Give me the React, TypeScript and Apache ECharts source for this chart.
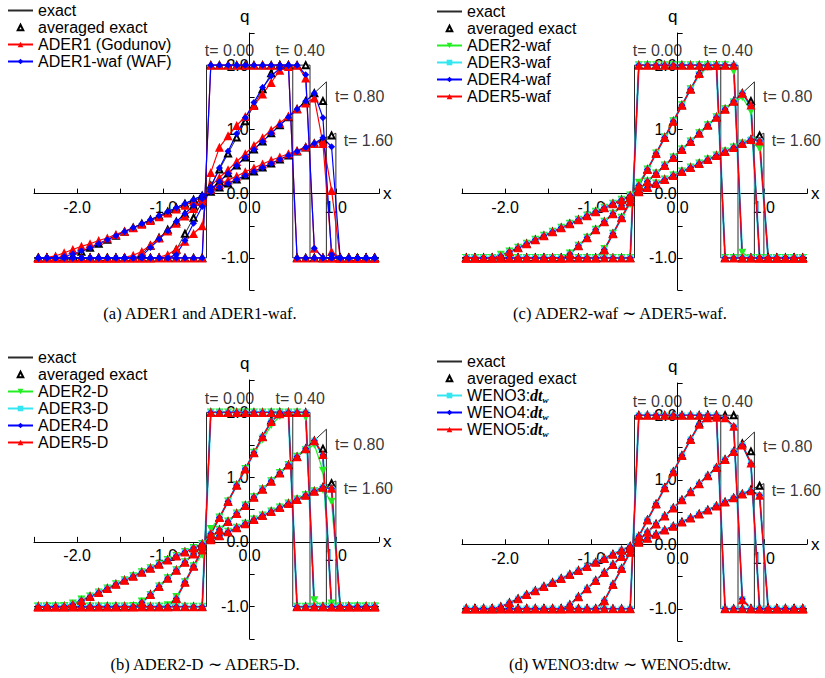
import React, { useEffect, useRef } from 'react';
import * as echarts from 'echarts';

// ---------- data ----------
const X = [-2.45, -2.35, -2.25, -2.15, -2.05, -1.95, -1.85, -1.75, -1.65, -1.55,
  -1.45, -1.35, -1.25, -1.15, -1.05, -0.95, -0.85, -0.75, -0.65, -0.55,
  -0.45, -0.35, -0.25, -0.15, -0.05, 0.05, 0.15, 0.25, 0.35, 0.45,
  0.55, 0.65, 0.75, 0.85, 0.95, 1.05, 1.15, 1.25, 1.35, 1.45];

const AVG_T000 = [-1, -1, -1, -1, -1, -1, -1, -1, -1, -1, -1, -1, -1, -1, -1, -1, -1, -1, -1, -1,
  2, 2, 2, 2, 2, 2, 2, 2, 2, 2, -1, -1, -1, -1, -1, -1, -1, -1, -1, -1];
const AVG_T040 = [-1, -1, -1, -1, -1, -1, -1, -1, -1, -1, -1, -1, -1, -1, -1, -1,
  -0.875, -0.625, -0.375, -0.125, 0.125, 0.375, 0.625, 0.875, 1.125, 1.375, 1.625, 1.875,
  2, 2, 2, 2, -1, -1, -1, -1, -1, -1, -1, -1];
const AVG_T080 = [-1, -1, -1, -1, -1, -1, -1, -1, -1, -1, -1, -1,
  -0.938, -0.813, -0.688, -0.563, -0.438, -0.313, -0.188, -0.063, 0.063, 0.188, 0.313, 0.438,
  0.563, 0.688, 0.813, 0.938, 1.063, 1.188, 1.313, 1.438, 1.563, 1.44,
  -1, -1, -1, -1, -1, -1];
const AVG_T160 = [-1, -1, -1, -1, -0.969, -0.906, -0.844, -0.781, -0.719, -0.656,
  -0.594, -0.531, -0.469, -0.406, -0.344, -0.281, -0.219, -0.156, -0.094, -0.031,
  0.031, 0.094, 0.156, 0.219, 0.281, 0.344, 0.406, 0.469, 0.531, 0.594,
  0.656, 0.719, 0.781, 0.844, 0.906, -1, -1, -1, -1, -1];

const EXACT_T000 = [[-2.5, -1], [-0.5, -1], [-0.5, 2], [0.5, 2], [0.5, -1], [1.5, -1]];
const EXACT_T040 = [[-2.5, -1], [-0.9, -1], [0.3, 2], [0.7, 2], [0.7, -1], [1.5, -1]];
const EXACT_T080 = [[-2.5, -1], [-1.3, -1], [0.89, 1.74], [0.89, -1], [1.5, -1]];
const EXACT_T160 = [[-2.5, -1], [-2.1, -1], [1.0, 0.94], [1.0, -1], [1.5, -1]];

const TIME_LABELS = ['t= 0.00', 't= 0.40', 't= 0.80', 't= 1.60'];
const TIME_LABEL_AT = [[-0.52, 2.22], [0.3, 2.22], [0.99, 1.51], [1.09, 0.83]];

const X_MIN = -2.5, X_MAX = 1.5, Y_MIN = -1.5, Y_MAX = 2.5;

// numerical values: cell averages with the deviations
function patch(base: number[], changes: Record<number, number>) {
  const a = base.slice();
  Object.keys(changes).forEach((k) => { a[Number(k)] = changes[Number(k)]; });
  return a;
}

// (a) ADER1 (Godunov)
const ADER1_T040 = patch(AVG_T040, { 14: -0.99, 15: -0.95, 16: -0.86, 17: -0.74, 18: -0.62, 19: -0.5, 20: 0.33, 21: 0.72, 22: 0.9, 23: 1.06, 24: 1.2, 25: 1.37, 26: 1.55, 27: 1.73, 28: 1.92, 29: 1.98, 31: 1.8, 32: -0.85 });
const ADER1_T080 = patch(AVG_T080, { 10: -0.99, 11: -0.96, 12: -0.9, 13: -0.8, 14: -0.69, 15: -0.58, 16: -0.46, 17: -0.35, 18: -0.23, 19: -0.12, 20: 0.12, 21: 0.25, 22: 0.37, 23: 0.5, 24: 0.62, 25: 0.75, 26: 0.87, 27: 0.99, 28: 1.1, 29: 1.21, 30: 1.32, 31: 1.41, 32: 1.49, 33: 0.78, 34: -0.9 });
const ADER1_T160 = patch(AVG_T160, { 1: -0.99, 2: -0.97, 3: -0.92, 4: -0.87, 5: -0.82, 6: -0.78, 7: -0.73, 8: -0.69, 9: -0.635, 10: -0.585, 11: -0.53, 12: -0.475, 13: -0.42, 14: -0.36, 15: -0.3, 16: -0.24, 17: -0.18, 18: -0.12, 19: -0.06, 20: 0.07, 21: 0.14, 22: 0.21, 23: 0.27, 24: 0.34, 25: 0.4, 26: 0.46, 27: 0.52, 28: 0.57, 29: 0.62, 30: 0.67, 31: 0.73, 32: 0.78, 33: 0.82, 34: 0.05 });
// (a) ADER1-waf (WAF)
const ADER1W_T040 = patch(AVG_T040, { 16: -0.95, 17: -0.73, 18: -0.46, 19: -0.2, 20: 0.1, 21: 0.4, 22: 0.66, 23: 0.93, 24: 1.18, 25: 1.42, 26: 1.65, 27: 1.83, 28: 1.95, 31: 1.85, 32: -0.85 });
const ADER1W_T080 = patch(AVG_T080, { 12: -0.97, 13: -0.84, 14: -0.71, 15: -0.58, 19: -0.08, 20: 0.06, 33: 1.18, 34: -0.95 });
const ADER1W_T160 = patch(AVG_T160, { 3: -0.98, 4: -0.94, 5: -0.89, 33: 0.87, 34: 0.73 });

// (c) ADER-waf
const ADER2W_T040 = patch(AVG_T040, { 16: -0.86, 19: -0.16, 20: 0.17, 27: 1.84, 28: 1.97, 31: 1.9, 32: -0.92 });
const ADER2W_T080 = patch(AVG_T080, { 12: -0.93, 31: 1.42, 32: 1.5, 33: 1.28 });
const ADER2W_T160 = patch(AVG_T160, { 4: -0.95, 5: -0.9, 33: 0.82, 34: 0.7 });
const ADER3W_T040 = patch(AVG_T040, { 27: 1.86, 28: 1.98 });
const ADER3W_T080 = patch(AVG_T080, { 33: 1.35 });
const ADER3W_T160 = patch(AVG_T160, { 34: 0.82 });
const ADER4W_T040 = patch(AVG_T040, { 27: 1.87, 28: 1.99 });
const ADER4W_T080 = patch(AVG_T080, { 33: 1.37 });
const ADER4W_T160 = patch(AVG_T160, { 34: 0.82 });
const ADER5W_T040 = patch(AVG_T040, { 27: 1.87, 28: 1.99 });
const ADER5W_T080 = patch(AVG_T080, { 33: 1.38 });
const ADER5W_T160 = patch(AVG_T160, { 34: 0.82 });

// (b) ADER-D
const ADER2D_T040 = patch(AVG_T040, { 15: -0.98, 16: -0.85, 19: -0.2, 20: 0.2, 26: 1.58, 27: 1.8, 28: 1.94, 29: 1.99, 31: 1.92, 32: -0.9 });
const ADER2D_T080 = patch(AVG_T080, { 11: -0.99, 12: -0.92, 13: -0.82, 31: 1.42, 32: 1.5, 33: 1.1, 34: -0.95 });
const ADER2D_T160 = patch(AVG_T160, { 3: -0.99, 4: -0.95, 5: -0.89, 33: 0.8, 34: 0.62 });
const ADER3D_T040 = patch(AVG_T040, { 27: 1.86, 28: 1.97 });
const ADER3D_T080 = patch(AVG_T080, { 33: 1.33 });
const ADER3D_T160 = patch(AVG_T160, { 34: 0.82 });
const ADER4D_T040 = patch(AVG_T040, { 27: 1.86, 28: 1.98 });
const ADER4D_T080 = patch(AVG_T080, { 33: 1.34 });
const ADER4D_T160 = patch(AVG_T160, { 34: 0.82 });
const ADER5D_T040 = patch(AVG_T040, { 27: 1.86, 28: 1.98 });
const ADER5D_T080 = patch(AVG_T080, { 33: 1.35 });
const ADER5D_T160 = patch(AVG_T160, { 34: 0.83 });

// (d) WENO
const WENO3_T040 = patch(AVG_T040, { 27: 1.85, 28: 1.95, 29: 1.96, 30: 1.95, 31: 1.82, 32: -0.85 });
const WENO3_T080 = patch(AVG_T080, { 32: 1.54, 33: 1.25 });
const WENO3_T160 = patch(AVG_T160, { 33: 0.83, 34: 0.76 });
const WENO4_T040 = patch(AVG_T040, { 27: 1.86, 28: 1.96, 29: 1.97, 30: 1.96, 31: 1.83, 32: -0.85 });
const WENO4_T080 = patch(AVG_T080, { 32: 1.54, 33: 1.25 });
const WENO4_T160 = patch(AVG_T160, { 33: 0.83, 34: 0.76 });
const WENO5_T040 = patch(AVG_T040, { 27: 1.86, 28: 1.96, 29: 1.97, 30: 1.96, 31: 1.83, 32: -0.86 });
const WENO5_T080 = patch(AVG_T080, { 32: 1.54, 33: 1.26 });
const WENO5_T160 = patch(AVG_T160, { 33: 0.83, 34: 0.76 });

// ---------- styles ----------
const FONT = 'Liberation Sans, Arial, Helvetica, sans-serif';
const SERIF = 'Liberation Serif, Times New Roman, serif';
const RED = '#ff0000';
const BLUE = '#0000ff';
const GREEN = '#22ee22';
const CYAN = '#33e6f0';

type Scheme = { name: string; color: string; symbol: string; size: number; rotate?: number; width?: number; values: number[][] };

const STY = {
  red: { color: RED, symbol: 'triangle', size: 9 },
  blue: { color: BLUE, symbol: 'diamond', size: 7 },
  green: { color: GREEN, symbol: 'triangle', size: 8, rotate: 180 },
  cyan: { color: CYAN, symbol: 'rect', size: 6, width: 2.2 },
};

const PANELS = [
  {
    grid: { left: 34, top: 33, width: 345, height: 257 },
    legend: { left: 7, top: 2 },
    caption: { text: '(a) ADER1 and ADER1-waf.', x: 200, y: 313 },
    schemes: [
      { name: 'ADER1 (Godunov)', ...STY.red, values: [AVG_T000, ADER1_T040, ADER1_T080, ADER1_T160] },
      { name: 'ADER1-waf (WAF)', ...STY.blue, values: [AVG_T000, ADER1W_T040, ADER1W_T080, ADER1W_T160] },
    ] as Scheme[],
  },
  {
    grid: { left: 462, top: 33, width: 345, height: 257 },
    legend: { left: 436, top: 3 },
    caption: { text: '(c) ADER2-waf \u223C ADER5-waf.', x: 620, y: 313 },
    schemes: [
      { name: 'ADER2-waf', ...STY.green, values: [AVG_T000, ADER2W_T040, ADER2W_T080, ADER2W_T160] },
      { name: 'ADER3-waf', ...STY.cyan, values: [AVG_T000, ADER3W_T040, ADER3W_T080, ADER3W_T160] },
      { name: 'ADER4-waf', ...STY.blue, values: [AVG_T000, ADER4W_T040, ADER4W_T080, ADER4W_T160] },
      { name: 'ADER5-waf', ...STY.red, values: [AVG_T000, ADER5W_T040, ADER5W_T080, ADER5W_T160] },
    ] as Scheme[],
  },
  {
    grid: { left: 34, top: 380, width: 345, height: 259 },
    legend: { left: 7, top: 349 },
    caption: { text: '(b) ADER2-D \u223C ADER5-D.', x: 205, y: 664 },
    schemes: [
      { name: 'ADER2-D', ...STY.green, values: [AVG_T000, ADER2D_T040, ADER2D_T080, ADER2D_T160] },
      { name: 'ADER3-D', ...STY.cyan, values: [AVG_T000, ADER3D_T040, ADER3D_T080, ADER3D_T160] },
      { name: 'ADER4-D', ...STY.blue, values: [AVG_T000, ADER4D_T040, ADER4D_T080, ADER4D_T160] },
      { name: 'ADER5-D', ...STY.red, values: [AVG_T000, ADER5D_T040, ADER5D_T080, ADER5D_T160] },
    ] as Scheme[],
  },
  {
    grid: { left: 462, top: 383, width: 345, height: 258 },
    legend: { left: 436, top: 353 },
    caption: { text: '(d) WENO3:dtw \u223C WENO5:dtw.', x: 620, y: 664 },
    schemes: [
      { name: 'WENO3:dtw', ...STY.cyan, values: [AVG_T000, WENO3_T040, WENO3_T080, WENO3_T160] },
      { name: 'WENO4:dtw', ...STY.blue, values: [AVG_T000, WENO4_T040, WENO4_T080, WENO4_T160] },
      { name: 'WENO5:dtw', ...STY.red, values: [AVG_T000, WENO5_T040, WENO5_T080, WENO5_T160] },
    ] as Scheme[],
  },
];

const EXACT = [EXACT_T000, EXACT_T040, EXACT_T080, EXACT_T160];
const AVERAGED = [AVG_T000, AVG_T040, AVG_T080, AVG_T160];

function fmt(v: number) {
  return Math.abs(v - Math.round(v)) < 1e-9 ? v.toFixed(1) : '';
}

function buildOption() {
  const grid: any[] = [];
  const xAxis: any[] = [];
  const yAxis: any[] = [];
  const legend: any[] = [];
  const series: any[] = [];
  const graphic: any[] = [];

  PANELS.forEach((p, gi) => {
    grid.push({ ...p.grid, containLabel: false });
    // put the axes through the origin
    const xOffset = -p.grid.height * (0 - Y_MIN) / (Y_MAX - Y_MIN);
    const yOffset = -p.grid.width * (0 - X_MIN) / (X_MAX - X_MIN);
    xAxis.push({
      gridIndex: gi, type: 'value', min: X_MIN, max: X_MAX, interval: 0.5,
      position: 'bottom', offset: xOffset,
      name: 'x', nameLocation: 'end', nameGap: 4,
      nameTextStyle: { fontSize: 17, color: '#000', fontFamily: FONT, align: 'left', verticalAlign: 'middle' },
      axisLine: { onZero: false, lineStyle: { color: '#000', width: 1 } },
      axisTick: { show: true, inside: true, length: 5, lineStyle: { color: '#000' } },
      axisLabel: { fontSize: 16, color: '#000', fontFamily: FONT, margin: 6, formatter: fmt },
      splitLine: { show: false },
    });
    yAxis.push({
      gridIndex: gi, type: 'value', min: Y_MIN, max: Y_MAX, interval: 0.5,
      position: 'left', offset: yOffset,
      name: 'q', nameLocation: 'end', nameGap: 8,
      nameTextStyle: { fontSize: 17, color: '#000', fontFamily: FONT, align: 'center', padding: [0, 10, 0, 0] },
      axisLine: { onZero: false, lineStyle: { color: '#000', width: 1 } },
      axisTick: { show: true, inside: true, length: 5, lineStyle: { color: '#000' } },
      axisLabel: { fontSize: 16, color: '#000', fontFamily: FONT, margin: 1, formatter: fmt },
      splitLine: { show: false },
    });

    const isWeno = gi === 3;
    legend.push({
      orient: 'vertical', left: p.legend.left, top: p.legend.top, padding: 0,
      itemWidth: 25, itemHeight: 7, itemGap: 0, selectedMode: false,
      textStyle: {
        fontSize: 16, lineHeight: 17, color: '#000', fontFamily: FONT,
        rich: {
          i: { fontSize: 16, lineHeight: 17, fontStyle: 'italic', fontWeight: 'bold', fontFamily: SERIF, color: '#000' },
          s: { fontSize: 9, lineHeight: 17, fontStyle: 'italic', fontWeight: 'bold', fontFamily: SERIF, color: '#000', padding: [8, 0, 0, 0] },
        },
      },
      formatter: isWeno ? (n: string) => n.replace(':dtw', ':{i|dt}{s|w}') : undefined,
      data: [
        { name: 'exact', itemStyle: { opacity: 0 } },
        { name: 'averaged exact', itemStyle: { borderWidth: 1 } },
        ...p.schemes.map((s) => s.name),
      ],
    });

    EXACT.forEach((pts) => {
      series.push({
        type: 'line', name: 'exact', xAxisIndex: gi, yAxisIndex: gi, data: pts,
        symbol: 'none', lineStyle: { color: '#2a2a2a', width: 1 }, itemStyle: { color: '#2a2a2a' },
        silent: true,
      });
    });

    const avgData: number[][] = [];
    AVERAGED.forEach((vals) => X.forEach((x, i) => avgData.push([x, vals[i]])));
    series.push({
      type: 'line', name: 'averaged exact', xAxisIndex: gi, yAxisIndex: gi, data: avgData,
      symbol: 'emptyTriangle', symbolSize: 6, showAllSymbol: true,
      itemStyle: { color: '#000', borderWidth: 0.8 }, lineStyle: { opacity: 0, width: 0 },
      silent: true,
    });

    p.schemes.forEach((s) => {
      s.values.forEach((vals) => {
        series.push({
          type: 'line', name: s.name, xAxisIndex: gi, yAxisIndex: gi,
          data: X.map((x, i) => [x, vals[i]]),
          symbol: s.symbol, symbolSize: s.size, symbolRotate: s.rotate || 0, showAllSymbol: true,
          itemStyle: { color: s.color }, lineStyle: { color: s.color, width: s.width || 1.2 },
          silent: true,
        });
      });
    });

    series.push({
      type: 'scatter', name: '__labels', xAxisIndex: gi, yAxisIndex: gi, symbolSize: 0, silent: true,
      data: TIME_LABELS.map((t, k) => ({ value: TIME_LABEL_AT[k], label: { formatter: t } })),
      label: { show: true, position: 'right', distance: 0, fontSize: 16, color: '#000', fontFamily: FONT },
    });

    graphic.push({
      type: 'text', x: p.caption.x, y: p.caption.y,
      style: { text: p.caption.text, fontSize: 16.5, fontFamily: SERIF, fill: '#000', align: 'center', verticalAlign: 'middle' },
    });
  });

  return { animation: false, backgroundColor: '#fff', grid, xAxis, yAxis, legend, series, graphic };
}

export default function App() {
  const ref = useRef<HTMLDivElement>(null);
  useEffect(() => {
    if (!ref.current) return;
    const chart = echarts.init(ref.current, null, { renderer: 'svg' });
    chart.setOption(buildOption() as any);
    return () => chart.dispose();
  }, []);
  return <div ref={ref} style={{ position: 'fixed', left: 0, top: 0, width: 825, height: 678, background: '#fff' }} />;
}
